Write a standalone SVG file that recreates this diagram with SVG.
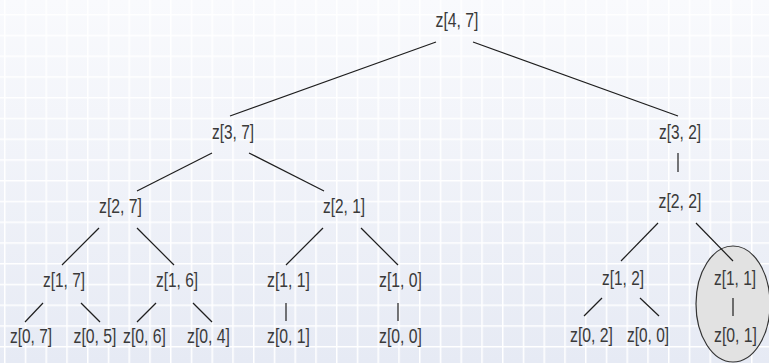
<svg xmlns="http://www.w3.org/2000/svg" width="769" height="363" viewBox="0 0 769 363">
<defs>
<linearGradient id="bg" x1="0" y1="0" x2="0" y2="1">
<stop offset="0" stop-color="#f9fafd"/>
<stop offset="1" stop-color="#e6eaf4"/>
</linearGradient>
<pattern id="grid" patternUnits="userSpaceOnUse" x="4" y="14" width="20.75" height="20.75">
<path d="M0.75 0V20.75M0 0.75H20.75" stroke="#ffffff" stroke-width="1.5" fill="none"/>
</pattern>
<style>
text{font-family:"Liberation Sans",Arial,sans-serif;font-size:20px;fill:#3a3a3a;text-anchor:middle}
.c line{stroke:#1e1e1e;stroke-width:1.2;stroke-linecap:butt}
</style>
</defs>
<rect width="769" height="363" fill="url(#bg)"/>
<rect width="769" height="363" fill="url(#grid)"/>
<g id="highlight">
<ellipse cx="733" cy="304" rx="37" ry="58" fill="#e2e2e2" stroke="#333" stroke-width="1.2"/>
</g>
<g class="c" id="connectors">
<line x1="436" y1="42" x2="230" y2="116"/>
<line x1="473" y1="42" x2="678" y2="116"/>
<line x1="212" y1="153" x2="137" y2="191"/>
<line x1="249" y1="153" x2="324" y2="191"/>
<line x1="678" y1="153" x2="678" y2="172"/>
<line x1="99" y1="228" x2="62" y2="265"/>
<line x1="137" y1="228" x2="174" y2="265"/>
<line x1="323" y1="228" x2="286" y2="265"/>
<line x1="361" y1="228" x2="398" y2="265"/>
<line x1="658" y1="223" x2="621" y2="261"/>
<line x1="696" y1="223" x2="733" y2="261"/>
<line x1="43" y1="303" x2="25" y2="322"/>
<line x1="81" y1="303" x2="100" y2="322"/>
<line x1="156" y1="303" x2="137" y2="322"/>
<line x1="193" y1="303" x2="212" y2="322"/>
<line x1="286" y1="303" x2="286" y2="321"/>
<line x1="398" y1="303" x2="398" y2="321"/>
<line x1="602" y1="298" x2="584" y2="316"/>
<line x1="640" y1="298" x2="659" y2="316"/>
<line x1="733" y1="298" x2="733" y2="316"/>
</g>
<g id="n47"><text x="457" y="27" textLength="43" lengthAdjust="spacingAndGlyphs">z[4, 7]</text></g>
<g id="n37"><text x="233" y="138.5" textLength="42" lengthAdjust="spacingAndGlyphs">z[3, 7]</text></g>
<g id="n32"><text x="680" y="139" textLength="42" lengthAdjust="spacingAndGlyphs">z[3, 2]</text></g>
<g id="n27"><text x="120.5" y="213" textLength="43" lengthAdjust="spacingAndGlyphs">z[2, 7]</text></g>
<g id="n21"><text x="344" y="213" textLength="42" lengthAdjust="spacingAndGlyphs">z[2, 1]</text></g>
<g id="n22"><text x="680" y="208" textLength="43" lengthAdjust="spacingAndGlyphs">z[2, 2]</text></g>
<g id="n17"><text x="64" y="286.5" textLength="42" lengthAdjust="spacingAndGlyphs">z[1, 7]</text></g>
<g id="n16"><text x="177" y="286.5" textLength="42" lengthAdjust="spacingAndGlyphs">z[1, 6]</text></g>
<g id="n11a"><text x="288.5" y="286.5" textLength="43" lengthAdjust="spacingAndGlyphs">z[1, 1]</text></g>
<g id="n10"><text x="400.5" y="286.5" textLength="43" lengthAdjust="spacingAndGlyphs">z[1, 0]</text></g>
<g id="n12"><text x="623" y="284.5" textLength="42" lengthAdjust="spacingAndGlyphs">z[1, 2]</text></g>
<g id="n11b"><text x="735" y="284.5" textLength="42" lengthAdjust="spacingAndGlyphs">z[1, 1]</text></g>
<g id="n07"><text x="31" y="343" textLength="42" lengthAdjust="spacingAndGlyphs">z[0, 7]</text></g>
<g id="n05"><text x="95" y="343" textLength="43" lengthAdjust="spacingAndGlyphs">z[0, 5]</text></g>
<g id="n06"><text x="144.5" y="343" textLength="43" lengthAdjust="spacingAndGlyphs">z[0, 6]</text></g>
<g id="n04"><text x="208.5" y="343" textLength="43" lengthAdjust="spacingAndGlyphs">z[0, 4]</text></g>
<g id="n01a"><text x="288.5" y="343" textLength="43" lengthAdjust="spacingAndGlyphs">z[0, 1]</text></g>
<g id="n00a"><text x="400.5" y="343" textLength="43" lengthAdjust="spacingAndGlyphs">z[0, 0]</text></g>
<g id="n02"><text x="591.5" y="341.5" textLength="43" lengthAdjust="spacingAndGlyphs">z[0, 2]</text></g>
<g id="n00b"><text x="648" y="341.5" textLength="42" lengthAdjust="spacingAndGlyphs">z[0, 0]</text></g>
<g id="n01b"><text x="735.5" y="341.5" textLength="43" lengthAdjust="spacingAndGlyphs">z[0, 1]</text></g>
</svg>
